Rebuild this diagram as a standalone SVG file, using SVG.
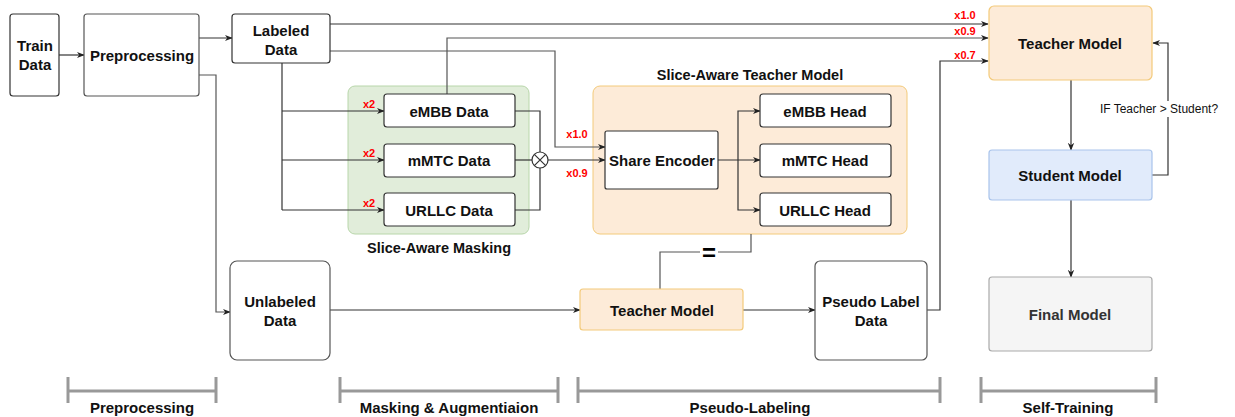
<svg xmlns="http://www.w3.org/2000/svg" width="1235" height="417" viewBox="0 0 1235 417">
<style>
text{font-family:"Liberation Sans",Arial,sans-serif;font-weight:bold;fill:#111;text-anchor:middle;dominant-baseline:central}
.box{fill:#fff;stroke:#333;stroke-width:1.2}
.lbl{font-size:15px}
.red{fill:#ff0000;font-size:11px}
.ln{fill:none;stroke:#333;stroke-width:1.2}
.lg{fill:none;stroke:#555;stroke-width:1.2}
.br{fill:none;stroke:#999;stroke-width:3}
.cap{font-size:15px;fill:#111}
</style>
<defs>
<marker id="ah" viewBox="0 0 10 10" refX="9" refY="5" markerWidth="8" markerHeight="8" markerUnits="userSpaceOnUse" orient="auto">
<path d="M0,1 L10,5 L0,9 L3,5 z" fill="#222"/>
</marker>
</defs>

<g id="group-masking">
<rect x="348" y="86" width="181" height="148" rx="7" fill="#e1edda" stroke="#b8d6aa" stroke-width="1"/>
<text x="439" y="248" style="font-size:14.5px">Slice-Aware Masking</text>
</g>
<g id="group-teacher">
<rect x="593" y="86" width="314" height="148" rx="7" fill="#fdebd8" stroke="#f3ca7a" stroke-width="1"/>
<text x="750" y="75" style="font-size:14.5px">Slice-Aware Teacher Model</text>
</g>

<g id="connectors">
<path class="ln" d="M59,55 H84" marker-end="url(#ah)"/>
<path class="ln" d="M199,38 H232" marker-end="url(#ah)"/>
<path class="lg" d="M199,75 H216 V312 H230" marker-end="url(#ah)"/>
<path class="ln" d="M330,24 H988" marker-end="url(#ah)"/>
<path class="lg" d="M447,94 V38 H988" marker-end="url(#ah)"/>
<path class="lg" d="M330,51 H555 V147 H605" marker-end="url(#ah)"/>
<path class="ln" d="M282,63 V210"/>
<path class="ln" d="M282,111 H384" marker-end="url(#ah)"/>
<path class="ln" d="M282,160 H384" marker-end="url(#ah)"/>
<path class="ln" d="M282,210 H384" marker-end="url(#ah)"/>
<path class="ln" d="M515,111 H540 V152"/>
<path class="ln" d="M515,210 H540 V168"/>
<path class="ln" d="M515,160 H532"/>
<path class="ln" d="M548,160 H605" marker-end="url(#ah)"/>
<circle cx="540" cy="160" r="8" fill="#fff" stroke="#333" stroke-width="1.2"/>
<path class="ln" d="M534.3,154.3 L545.7,165.7 M545.7,154.3 L534.3,165.7"/>
<path class="ln" d="M718,160 H760" marker-end="url(#ah)"/>
<path class="ln" d="M738,160 V111 H760" marker-end="url(#ah)"/>
<path class="ln" d="M738,160 V210 H760" marker-end="url(#ah)"/>
<path class="lg" d="M751,234 V252 H660 V289"/>
<rect x="700" y="245" width="18" height="14" fill="#fff"/>
<text x="709" y="252" style="font-size:24px;fill:#000">=</text>
<path class="ln" d="M330,310 H580" marker-end="url(#ah)"/>
<path class="ln" d="M743,310 H815" marker-end="url(#ah)"/>
<path class="ln" d="M927,310 H940 V61 H988" marker-end="url(#ah)"/>
<path class="ln" d="M1071,80 V150" marker-end="url(#ah)"/>
<path class="ln" d="M1071,200 V277" marker-end="url(#ah)"/>
<path class="ln" d="M1152,175 H1168 V43 H1153" marker-end="url(#ah)"/>
<rect x="1099" y="101" width="120" height="16" fill="#fff"/>
<text x="1159" y="109" style="font-size:12px;font-weight:normal">IF Teacher &gt; Student?</text>
<text class="red" x="965" y="15">x1.0</text>
<text class="red" x="965" y="31">x0.9</text>
<text class="red" x="965" y="55">x0.7</text>
<text class="red" x="577" y="134">x1.0</text>
<text class="red" x="577" y="173">x0.9</text>
<text class="red" x="369" y="104">x2</text>
<text class="red" x="369" y="153">x2</text>
<text class="red" x="369" y="203">x2</text>
</g>

<g id="train-data"><rect class="box" x="10" y="14" width="49" height="82" rx="3"/><text class="lbl" x="35" y="45">Train</text><text class="lbl" x="35" y="64">Data</text></g>
<g id="preprocessing"><rect class="box" x="84" y="14" width="115" height="82" rx="3" style="stroke:#555"/><text class="lbl" x="142" y="55">Preprocessing</text></g>
<g id="labeled-data"><rect class="box" x="232" y="14" width="98" height="49" rx="3"/><text class="lbl" x="281" y="30">Labeled</text><text class="lbl" x="281" y="49">Data</text></g>
<g id="unlabeled-data"><rect class="box" x="230" y="261" width="100" height="99" rx="7" style="stroke:#555"/><text class="lbl" x="280" y="301">Unlabeled</text><text class="lbl" x="280" y="320">Data</text></g>
<g id="embb-data"><rect class="box" x="384" y="94" width="131" height="33" rx="3"/><text class="lbl" x="449" y="111">eMBB Data</text></g>
<g id="mmtc-data"><rect class="box" x="384" y="144" width="131" height="33" rx="3"/><text class="lbl" x="449" y="160">mMTC Data</text></g>
<g id="urllc-data"><rect class="box" x="384" y="193" width="131" height="33" rx="3"/><text class="lbl" x="449" y="210">URLLC Data</text></g>
<g id="share-encoder"><rect class="box" x="605" y="131" width="113" height="58" rx="2"/><text class="lbl" x="662" y="160">Share Encoder</text></g>
<g id="embb-head"><rect class="box" x="760" y="94" width="131" height="33" rx="3"/><text class="lbl" x="825" y="111">eMBB Head</text></g>
<g id="mmtc-head"><rect class="box" x="760" y="144" width="131" height="33" rx="3"/><text class="lbl" x="825" y="160">mMTC Head</text></g>
<g id="urllc-head"><rect class="box" x="760" y="193" width="131" height="33" rx="3"/><text class="lbl" x="825" y="210">URLLC Head</text></g>
<g id="teacher-model-pl"><rect x="580" y="289" width="163" height="41" rx="3" fill="#fdebd8" stroke="#f3ca7a" stroke-width="1.2"/><text class="lbl" x="662" y="310">Teacher Model</text></g>
<g id="pseudo-label-data"><rect class="box" x="815" y="261" width="112" height="99" rx="5" style="stroke:#555"/><text class="lbl" x="871" y="301">Pseudo Label</text><text class="lbl" x="871" y="320">Data</text></g>
<g id="teacher-model"><rect x="989" y="6" width="163" height="74" rx="5" fill="#fdebd8" stroke="#f3ca7a" stroke-width="1.2"/><text class="lbl" x="1070" y="43">Teacher Model</text></g>
<g id="student-model"><rect x="989" y="150" width="163" height="50" rx="3" fill="#e1ebfb" stroke="#a9c4eb" stroke-width="1.2"/><text class="lbl" x="1070" y="175">Student Model</text></g>
<g id="final-model"><rect x="989" y="277" width="163" height="74" rx="3" fill="#f5f5f5" stroke="#aaa" stroke-width="1.2"/><text class="lbl" x="1070" y="314" style="fill:#333">Final Model</text></g>

<g id="phase-preprocessing"><path class="br" d="M68,377 V403 M216,377 V403 M68,391 H216"/><text class="cap" x="142" y="407">Preprocessing</text></g>
<g id="phase-masking"><path class="br" d="M340,377 V403 M558,377 V403 M340,391 H558"/><text class="cap" x="449" y="407">Masking &amp; Augmentiaion</text></g>
<g id="phase-pseudo"><path class="br" d="M578,377 V403 M940,377 V403 M578,391 H940"/><text class="cap" x="750" y="407">Pseudo-Labeling</text></g>
<g id="phase-self"><path class="br" d="M981,377 V403 M1156,377 V403 M981,391 H1156"/><text class="cap" x="1068" y="407">Self-Training</text></g>
</svg>
